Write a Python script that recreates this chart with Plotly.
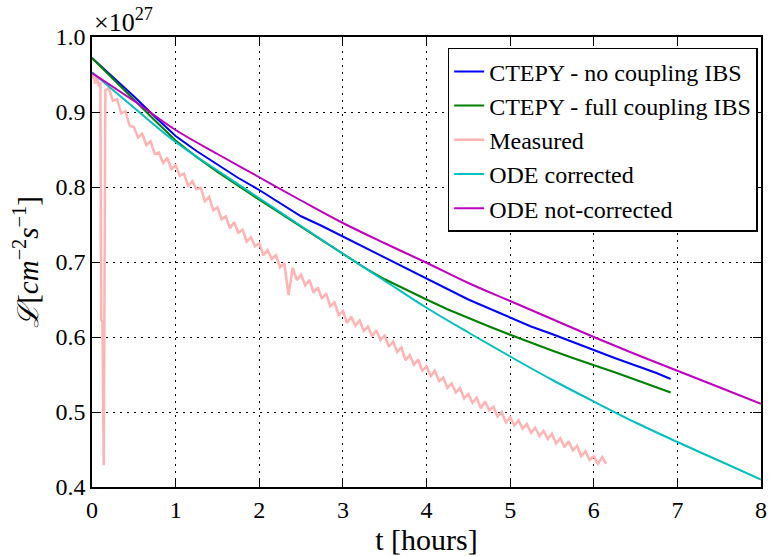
import plotly.graph_objects as go

# ---------------- data (luminosity in units of 1e27 cm^-2 s^-1, time in hours) ----------------
ctepy_nc_t = [0.0, 0.25, 0.5, 0.75, 1.0, 1.25, 1.5, 1.75, 2.0, 2.25, 2.5, 2.75, 3.0, 3.25, 3.5,
              3.75, 4.0, 4.25, 4.5, 4.75, 5.0, 5.25, 5.5, 5.75, 6.0, 6.25, 6.5, 6.75, 6.92]
ctepy_nc_v = [0.972, 0.947, 0.921, 0.894, 0.868, 0.848, 0.830, 0.812, 0.796, 0.778, 0.761, 0.748,
              0.734, 0.719, 0.706, 0.691, 0.677, 0.663, 0.650, 0.638, 0.626, 0.614, 0.604, 0.593,
              0.583, 0.572, 0.562, 0.552, 0.544]

ctepy_fc_t = [0.0, 0.25, 0.5, 0.75, 1.0, 1.25, 1.5, 1.75, 2.0, 2.25, 2.5, 2.75, 3.0, 3.25, 3.5,
              3.75, 4.0, 4.25, 4.5, 4.75, 5.0, 5.25, 5.5, 5.75, 6.0, 6.25, 6.5, 6.75, 6.92]
ctepy_fc_v = [0.972, 0.944, 0.917, 0.889, 0.862, 0.840, 0.820, 0.801, 0.783, 0.765, 0.747, 0.728,
              0.710, 0.693, 0.677, 0.663, 0.650, 0.637, 0.625, 0.614, 0.603, 0.592, 0.582, 0.572,
              0.563, 0.553, 0.543, 0.533, 0.526]

measured_t = [0.00, 0.02, 0.04, 0.06, 0.08, 0.10, 0.11, 0.125, 0.14, 0.16,
              0.20, 0.25, 0.30, 0.35, 0.40, 0.45, 0.50, 0.55, 0.60, 0.65, 0.70, 0.75, 0.80, 0.85,
              0.90, 0.95, 1.00, 1.05, 1.10, 1.15, 1.20, 1.25, 1.30, 1.35, 1.40, 1.45, 1.50, 1.55,
              1.60, 1.65, 1.70, 1.75, 1.80, 1.85, 1.90, 1.95, 2.00, 2.05, 2.10, 2.15, 2.20, 2.25,
              2.30, 2.35, 2.40, 2.45, 2.50, 2.55, 2.60, 2.65, 2.70, 2.75, 2.80, 2.85, 2.90, 2.95,
              3.00, 3.05, 3.10, 3.15, 3.20, 3.25, 3.30, 3.35, 3.40, 3.45, 3.50, 3.55, 3.60, 3.65,
              3.70, 3.75, 3.80, 3.85, 3.90, 3.95, 4.00, 4.05, 4.10, 4.15, 4.20, 4.25, 4.30, 4.35,
              4.40, 4.45, 4.50, 4.55, 4.60, 4.65, 4.70, 4.75, 4.80, 4.85, 4.90, 4.95, 5.00, 5.05,
              5.10, 5.15, 5.20, 5.25, 5.30, 5.35, 5.40, 5.45, 5.50, 5.55, 5.60, 5.65, 5.70, 5.75,
              5.80, 5.85, 5.90, 5.95, 6.00, 6.05, 6.10, 6.15]
measured_v = [0.945, 0.951, 0.938, 0.947, 0.934, 0.940, 0.623, 0.620, 0.429, 0.929,
              0.932, 0.915, 0.917, 0.898, 0.901, 0.882, 0.880, 0.866, 0.871, 0.856, 0.861, 0.844,
              0.846, 0.832, 0.839, 0.824, 0.829, 0.815, 0.818, 0.801, 0.808, 0.797, 0.799, 0.781,
              0.787, 0.769, 0.773, 0.757, 0.761, 0.745, 0.753, 0.739, 0.743, 0.727, 0.733, 0.721,
              0.725, 0.709, 0.716, 0.704, 0.709, 0.693, 0.698, 0.656, 0.692, 0.676, 0.683, 0.669,
              0.676, 0.659, 0.666, 0.651, 0.658, 0.641, 0.646, 0.629, 0.635, 0.619, 0.627, 0.615,
              0.622, 0.608, 0.614, 0.601, 0.609, 0.596, 0.602, 0.587, 0.594, 0.580, 0.586, 0.569,
              0.576, 0.563, 0.570, 0.555, 0.561, 0.548, 0.555, 0.541, 0.546, 0.532, 0.538, 0.526,
              0.532, 0.518, 0.524, 0.512, 0.519, 0.505, 0.514, 0.502, 0.507, 0.494, 0.500, 0.486,
              0.493, 0.482, 0.489, 0.478, 0.484, 0.472, 0.479, 0.468, 0.475, 0.464, 0.471, 0.458,
              0.465, 0.453, 0.461, 0.449, 0.455, 0.441, 0.448, 0.436, 0.441, 0.431, 0.440, 0.431]

ode_t = [0.0, 0.5, 1.0, 1.5, 2.0, 2.5, 3.0, 3.5, 4.0, 4.5, 5.0, 5.5, 6.0, 6.5, 7.0, 7.5, 8.0]
ode_corr_v = [0.953, 0.906, 0.860, 0.822, 0.785, 0.748, 0.711, 0.675, 0.639, 0.606, 0.574,
              0.543, 0.514, 0.486, 0.460, 0.435, 0.410]
ode_notcorr_v = [0.952, 0.915, 0.876, 0.844, 0.813, 0.782, 0.752, 0.725, 0.699, 0.672, 0.648,
                 0.624, 0.600, 0.577, 0.555, 0.533, 0.511]

x_ticks = [0, 1, 2, 3, 4, 5, 6, 7, 8]
y_ticks = [0.4, 0.5, 0.6, 0.7, 0.8, 0.9, 1.0]
y_tick_text = ["0.4", "0.5", "0.6", "0.7", "0.8", "0.9", "1.0"]

FONT = "Liberation Serif, Times New Roman, DejaVu Serif, serif"

fig = go.Figure()
fig.add_trace(go.Scatter(x=ctepy_nc_t, y=ctepy_nc_v, mode="lines",
                         name="CTEPY - no coupling IBS", line=dict(color="#0000FF", width=2)))
fig.add_trace(go.Scatter(x=ctepy_fc_t, y=ctepy_fc_v, mode="lines",
                         name="CTEPY - full coupling IBS", line=dict(color="#008000", width=2)))
fig.add_trace(go.Scatter(x=measured_t, y=measured_v, mode="lines",
                         name="Measured", line=dict(color="#FFB3B3", width=2.5)))
fig.add_trace(go.Scatter(x=ode_t, y=ode_corr_v, mode="lines", line_shape="spline",
                         name="ODE corrected", line=dict(color="#00BFBF", width=2)))
fig.add_trace(go.Scatter(x=ode_t, y=ode_notcorr_v, mode="lines", line_shape="spline",
                         name="ODE not-corrected", line=dict(color="#BF00BF", width=2)))

axis_common = dict(
    showline=True, linecolor="black", linewidth=1.5, mirror="allticks",
    ticks="inside", ticklen=8, tickwidth=1, tickcolor="black",
    showgrid=True, gridcolor="black", gridwidth=1, griddash="2px,5px",
    zeroline=False, tickfont=dict(family=FONT, size=24, color="black"),
)

fig.update_xaxes(range=[0, 8], tickvals=x_ticks,
                 title=dict(text="t [hours]", font=dict(family=FONT, size=30, color="black"),
                            standoff=4),
                 **axis_common)
fig.update_yaxes(range=[0.4, 1.0], tickvals=y_ticks, ticktext=y_tick_text,
                 title=dict(text="<i>ℒ</i>[<i>cm</i><sup>−2</sup><i>s</i><sup>−1</sup>]",
                            font=dict(family=FONT, size=29, color="black"), standoff=8),
                 **axis_common)

fig.add_annotation(xref="paper", yref="paper", x=0.0, y=1.0, xanchor="left", yanchor="bottom",
                   text="×10<sup>27</sup>", showarrow=False, yshift=-2,
                   font=dict(family=FONT, size=26, color="black"))

fig.update_layout(
    width=775, height=556,
    margin=dict(l=92, r=8, t=37, b=69),
    plot_bgcolor="white", paper_bgcolor="white",
    font=dict(family=FONT, color="black"),
    legend=dict(x=0.995, y=0.976, xanchor="right", yanchor="top",
                bgcolor="white", bordercolor="black", borderwidth=1.5,
                font=dict(family=FONT, size=24, color="black")),
)

fig.write_html("out.html", config={"displayModeBar": False},
               post_script="document.body.style.margin='0';document.body.style.overflow='hidden';")
